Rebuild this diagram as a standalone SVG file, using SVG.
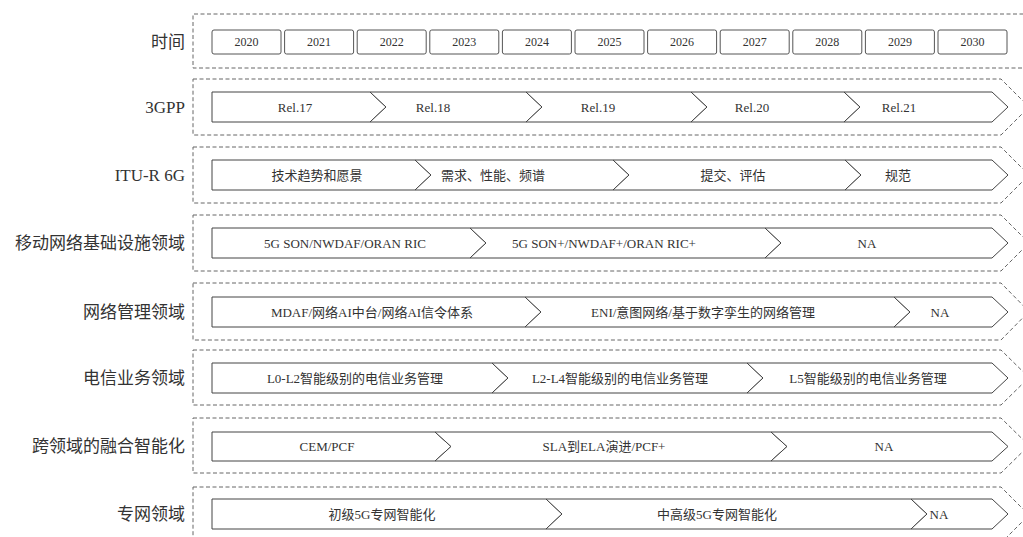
<svg xmlns="http://www.w3.org/2000/svg" width="1023" height="537" viewBox="0 0 1023 537">
<style>
.frame{fill:none;stroke:#666;stroke-width:1;stroke-dasharray:4 2.5}
.seg{fill:#fff;stroke:#444;stroke-width:1;stroke-linejoin:miter}
.year{fill:#fff;stroke:#555;stroke-width:1}
.lbl{font-family:"Liberation Serif","Noto Sans CJK SC",serif;font-size:17px;fill:#333;text-anchor:end}
.t{font-family:"Liberation Serif","Noto Sans CJK SC",serif;font-size:13px;fill:#333;text-anchor:middle}
.yt{font-family:"Liberation Serif","Noto Sans CJK SC",serif;font-size:12px;fill:#333;text-anchor:middle}
</style>
<rect width="1023" height="537" fill="#fff"/>

<g id="row-time">
<path class="frame" d="M1030,14 H193 V68 H1030"/>
<text class="lbl" x="185" y="48">时间</text>
<g id="y2020"><rect class="year" x="212" y="30" width="69" height="24" rx="2"/><text class="yt" x="246.5" y="46">2020</text></g>
<g id="y2021"><rect class="year" x="284.6" y="30" width="69" height="24" rx="2"/><text class="yt" x="319.1" y="46">2021</text></g>
<g id="y2022"><rect class="year" x="357.2" y="30" width="69" height="24" rx="2"/><text class="yt" x="391.7" y="46">2022</text></g>
<g id="y2023"><rect class="year" x="429.8" y="30" width="69" height="24" rx="2"/><text class="yt" x="464.3" y="46">2023</text></g>
<g id="y2024"><rect class="year" x="502.4" y="30" width="69" height="24" rx="2"/><text class="yt" x="536.9" y="46">2024</text></g>
<g id="y2025"><rect class="year" x="575" y="30" width="69" height="24" rx="2"/><text class="yt" x="609.5" y="46">2025</text></g>
<g id="y2026"><rect class="year" x="647.6" y="30" width="69" height="24" rx="2"/><text class="yt" x="682.1" y="46">2026</text></g>
<g id="y2027"><rect class="year" x="720.2" y="30" width="69" height="24" rx="2"/><text class="yt" x="754.7" y="46">2027</text></g>
<g id="y2028"><rect class="year" x="792.8" y="30" width="69" height="24" rx="2"/><text class="yt" x="827.3" y="46">2028</text></g>
<g id="y2029"><rect class="year" x="865.4" y="30" width="69" height="24" rx="2"/><text class="yt" x="899.9" y="46">2029</text></g>
<g id="y2030"><rect class="year" x="938" y="30" width="69" height="24" rx="2"/><text class="yt" x="972.5" y="46">2030</text></g>
</g>

<g id="row-3gpp">
<path class="frame" d="M193,79 H1001 L1029,107 L1001,135 H193 Z"/>
<text class="lbl" x="185" y="113">3GPP</text>
<g id="rel17"><path class="seg" d="M212,92 H370 L386,107 L370,122 H212 Z"/><text class="t" x="295" y="111.5">Rel.17</text></g>
<g id="rel18"><path class="seg" d="M370,92 H526 L542,107 L526,122 H370 L386,107 Z"/><text class="t" x="433" y="111.5">Rel.18</text></g>
<g id="rel19"><path class="seg" d="M526,92 H691 L707,107 L691,122 H526 L542,107 Z"/><text class="t" x="598" y="111.5">Rel.19</text></g>
<g id="rel20"><path class="seg" d="M691,92 H844 L860,107 L844,122 H691 L707,107 Z"/><text class="t" x="752" y="111.5">Rel.20</text></g>
<g id="rel21"><path class="seg" d="M844,92 H992 L1008,107 L992,122 H844 L860,107 Z"/><text class="t" x="899" y="111.5">Rel.21</text></g>
</g>

<g id="row-itu">
<path class="frame" d="M193,147 H1001 L1029,175 L1001,203 H193 Z"/>
<text class="lbl" x="185" y="181">ITU-R 6G</text>
<g id="itu1"><path class="seg" d="M212,160 H415 L431,175 L415,190 H212 Z"/><text class="t" x="317" y="179.5">技术趋势和愿景</text></g>
<g id="itu2"><path class="seg" d="M415,160 H613 L629,175 L613,190 H415 L431,175 Z"/><text class="t" x="493" y="179.5">需求、性能、频谱</text></g>
<g id="itu3"><path class="seg" d="M613,160 H845 L861,175 L845,190 H613 L629,175 Z"/><text class="t" x="733" y="179.5">提交、评估</text></g>
<g id="itu4"><path class="seg" d="M845,160 H992 L1008,175 L992,190 H845 L861,175 Z"/><text class="t" x="898" y="179.5">规范</text></g>
</g>

<g id="row-mobile">
<path class="frame" d="M193,215 H1001 L1029,243 L1001,271 H193 Z"/>
<text class="lbl" x="185" y="249">移动网络基础设施领域</text>
<g id="mob1"><path class="seg" d="M212,228 H470 L486,243 L470,258 H212 Z"/><text class="t" x="345" y="247.5">5G SON/NWDAF/ORAN RIC</text></g>
<g id="mob2"><path class="seg" d="M470,228 H765 L781,243 L765,258 H470 L486,243 Z"/><text class="t" x="604" y="247.5">5G SON+/NWDAF+/ORAN RIC+</text></g>
<g id="mob3"><path class="seg" d="M765,228 H992 L1008,243 L992,258 H765 L781,243 Z"/><text class="t" x="867" y="247.5">NA</text></g>
</g>

<g id="row-mgmt">
<path class="frame" d="M193,283 H1001 L1029,311.5 L1001,340 H193 Z"/>
<text class="lbl" x="185" y="318">网络管理领域</text>
<g id="mgmt1"><path class="seg" d="M212,297 H525 L541,312 L525,327 H212 Z"/><text class="t" x="372" y="316.5">MDAF/网络AI中台/网络AI信令体系</text></g>
<g id="mgmt2"><path class="seg" d="M525,297 H894 L910,312 L894,327 H525 L541,312 Z"/><text class="t" x="703" y="316.5">ENI/意图网络/基于数字孪生的网络管理</text></g>
<g id="mgmt3"><path class="seg" d="M894,297 H992 L1008,312 L992,327 H894 L910,312 Z"/><text class="t" x="940" y="316.5">NA</text></g>
</g>

<g id="row-telecom">
<path class="frame" d="M193,350 H1001 L1029,377.5 L1001,405 H193 Z"/>
<text class="lbl" x="185" y="384">电信业务领域</text>
<g id="tel1"><path class="seg" d="M212,363 H492 L508,378 L492,393 H212 Z"/><text class="t" x="355" y="382.5">L0-L2智能级别的电信业务管理</text></g>
<g id="tel2"><path class="seg" d="M492,363 H747 L763,378 L747,393 H492 L508,378 Z"/><text class="t" x="620" y="382.5">L2-L4智能级别的电信业务管理</text></g>
<g id="tel3"><path class="seg" d="M747,363 H992 L1008,378 L992,393 H747 L763,378 Z"/><text class="t" x="868" y="382.5">L5智能级别的电信业务管理</text></g>
</g>

<g id="row-cross">
<path class="frame" d="M193,418 H1001 L1029,445.5 L1001,473 H193 Z"/>
<text class="lbl" x="185" y="452">跨领域的融合智能化</text>
<g id="cross1"><path class="seg" d="M212,432 H435 L451,446.5 L435,461 H212 Z"/><text class="t" x="327" y="451">CEM/PCF</text></g>
<g id="cross2"><path class="seg" d="M435,432 H771 L787,446.5 L771,461 H435 L451,446.5 Z"/><text class="t" x="604" y="451">SLA到ELA演进/PCF+</text></g>
<g id="cross3"><path class="seg" d="M771,432 H992 L1008,446.5 L992,461 H771 L787,446.5 Z"/><text class="t" x="884" y="451">NA</text></g>
</g>

<g id="row-private">
<path class="frame" d="M193,487 H1001 L1029,515 L1001,543 H193 Z"/>
<text class="lbl" x="185" y="520">专网领域</text>
<g id="pri1"><path class="seg" d="M212,499 H546 L562,514 L546,529 H212 Z"/><text class="t" x="382" y="518.5">初级5G专网智能化</text></g>
<g id="pri2"><path class="seg" d="M546,499 H911 L927,514 L911,529 H546 L562,514 Z"/><text class="t" x="717" y="518.5">中高级5G专网智能化</text></g>
<g id="pri3"><path class="seg" d="M911,499 H992 L1008,514 L992,529 H911 L927,514 Z"/><text class="t" x="939" y="518.5">NA</text></g>
</g>

<g id="connectors"/>
</svg>
